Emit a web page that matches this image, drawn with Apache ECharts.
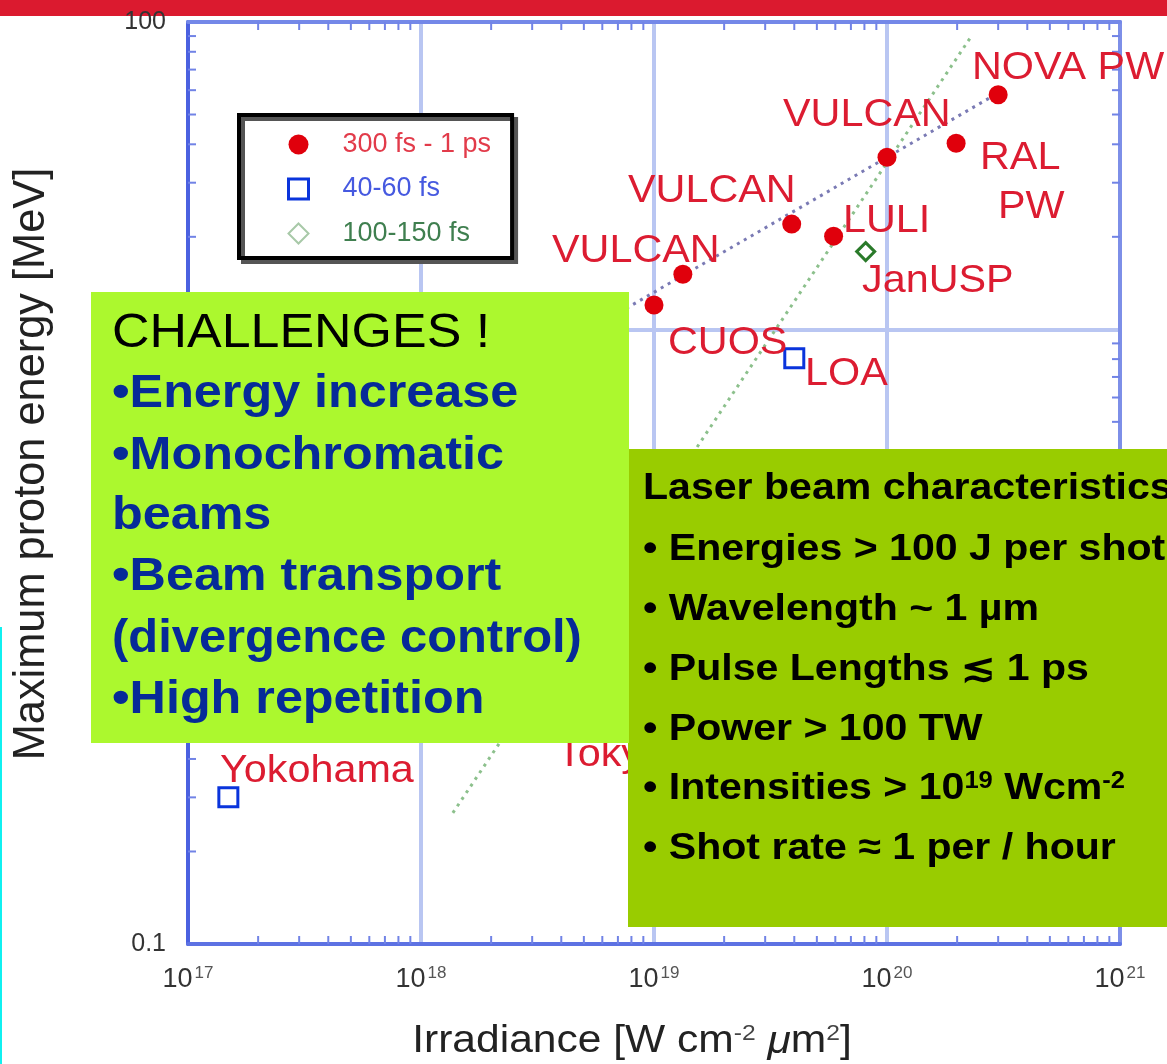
<!DOCTYPE html>
<html>
<head>
<meta charset="utf-8">
<script src="https://cdn.jsdelivr.net/npm/echarts@6/dist/echarts.min.js"></script>
<style>
html, body { margin: 0; padding: 0; background: #fff; }
#chart { width: 1167px; height: 1064px; }
</style>
</head>
<body>
<div id="chart"></div>
<script>
// max proton energy [MeV] vs irradiance
const longPulseX = [1.0e19, 1.33e19, 3.9e19, 5.9e19, 1.0e20, 1.98e20, 3.0e20] // 300 fs - 1 ps
const longPulseY = [12.0, 15.1, 22.0, 20.1, 36.3, 40.3, 58.0]
const shortPulseX = [1.49e17, 4.0e19] // 40-60 fs
const shortPulseY = [0.30, 8.05]
const midPulseX = [8.1e19] // 100-150 fs
const midPulseY = [17.9]
// the two dotted guide lines
const guideLongX = [7.6e18, 2.99e20]
const guideLongY = [11.7, 58.7]
const guideShortX = [1.37e18, 2.29e20]
const guideShortY = [0.267, 89.4]
const seriesNames = ['300 fs - 1 ps', '40-60 fs', '100-150 fs']
// log minor ticks (2..9 in each decade)
const minorMults = [2, 3, 4, 5, 6, 7, 8, 9]
const xDecades = [1e17, 1e18, 1e19, 1e20]
const yDecades = [0.1, 1, 10]

const FONT = '"Liberation Sans", Arial, sans-serif'
const RED = '#dc1c31'

const pairs = (xs, ys) => xs.map((x, i) => [x, ys[i]])
const xMinor = []
xDecades.forEach(d => minorMults.forEach(m => xMinor.push([m * d, 0.1])))
const yMinor = []
yDecades.forEach(d => minorMults.forEach(m => yMinor.push([1e17, m * d])))

const tickStyle = { stroke: '#7183e6', lineWidth: 2 }
function renderXTick (params, api) {
  const v = api.value(0)
  const b = api.coord([v, 0.1])
  const t = api.coord([v, 100])
  return {
    type: 'group',
    children: [
      { type: 'line', shape: { x1: b[0], y1: b[1], x2: b[0], y2: b[1] - 8 }, style: tickStyle },
      { type: 'line', shape: { x1: t[0], y1: t[1], x2: t[0], y2: t[1] + 8 }, style: tickStyle }
    ]
  }
}
function renderYTick (params, api) {
  const v = api.value(1)
  const l = api.coord([1e17, v])
  const r = api.coord([1e21, v])
  return {
    type: 'group',
    children: [
      { type: 'line', shape: { x1: l[0], y1: l[1], x2: l[0] + 8, y2: l[1] }, style: tickStyle },
      { type: 'line', shape: { x1: r[0], y1: r[1], x2: r[0] - 8, y2: r[1] }, style: tickStyle }
    ]
  }
}

function redLabel (text, x, y) {
  return {
    type: 'text', x: x, y: y, scaleX: 1.06, z: 5,
    style: { text: text, fill: RED, font: '39px ' + FONT, verticalAlign: 'middle' }
  }
}
function boxLine (text, x, y, font, color, sx) {
  return {
    type: 'text', x: x, y: y, scaleX: sx, z: 60,
    style: { text: text, fill: color, font: font, verticalAlign: 'middle' }
  }
}

const chart = echarts.init(document.getElementById('chart'))
const axisLineCol = '#5d72e3'
const gridCol = '#b9c6f2'
const laserFont = 'bold 37px ' + FONT
const laserScale = 1.11

const option = {
  animation: false,
  backgroundColor: '#fff',
  grid: { left: 188, right: 47, top: 22, bottom: 120 },
  xAxis: [
    {
      type: 'log', logBase: 10, min: 1e17, max: 1e21, position: 'bottom',
      axisLine: { onZero: false, lineStyle: { color: axisLineCol, width: 4 } },
      axisTick: { show: false },
      splitLine: { show: true, lineStyle: { color: gridCol, width: 4 } },
      axisLabel: {
        margin: 21,
        formatter: v => '{b|10}{s|' + Math.round(Math.log10(v)) + '}',
        rich: {
          b: { fontSize: 27, color: '#333', fontFamily: FONT, lineHeight: 30 },
          s: { fontSize: 17, color: '#555', fontFamily: FONT, verticalAlign: 'top', lineHeight: 18, padding: [0, 0, 0, 2] }
        }
      }
    },
    {
      type: 'log', logBase: 10, min: 1e17, max: 1e21, position: 'top',
      axisLine: { onZero: false, lineStyle: { color: '#7488e8', width: 4 } },
      axisTick: { show: false }, axisLabel: { show: false }, splitLine: { show: false }
    }
  ],
  yAxis: [
    {
      type: 'log', logBase: 10, min: 0.1, max: 100, position: 'left',
      axisLine: { onZero: false, lineStyle: { color: '#4b61e0', width: 4 } },
      axisTick: { show: false },
      splitLine: { show: true, lineStyle: { color: gridCol, width: 4 } },
      axisLabel: {
        margin: 22, fontSize: 25, color: '#333', fontFamily: FONT,
        formatter: v => (v < 1 ? v.toFixed(1) : String(Math.round(v)))
      }
    },
    {
      type: 'log', logBase: 10, min: 0.1, max: 100, position: 'right',
      axisLine: { onZero: false, lineStyle: { color: '#7d8fe8', width: 4 } },
      axisTick: { show: false }, axisLabel: { show: false }, splitLine: { show: false }
    }
  ],
  legend: {
    orient: 'vertical', left: 239, top: 115,
    padding: [16, 21, 11, 48],
    itemWidth: 20, itemHeight: 20, itemGap: 17.5,
    backgroundColor: '#fff', borderColor: '#000', borderWidth: 4,
    shadowColor: '#555', shadowBlur: 0, shadowOffsetX: 4, shadowOffsetY: 4,
    selectedMode: false,
    textStyle: { fontSize: 27, fontFamily: FONT, lineHeight: 20, padding: [0, 0, 0, 29] },
    data: [
      { name: seriesNames[0], textStyle: { color: '#e23b4a' } },
      { name: seriesNames[1], textStyle: { color: '#4659e0' }, itemStyle: { borderWidth: 3 } },
      { name: seriesNames[2], textStyle: { color: '#3f7f4f' }, itemStyle: { borderColor: '#a8c9a8', borderWidth: 2 } }
    ]
  },
  series: [
    {
      type: 'custom', renderItem: renderXTick, data: xMinor, silent: true, z: 1, clip: false
    },
    {
      type: 'custom', renderItem: renderYTick, data: yMinor, silent: true, z: 1, clip: false
    },
    {
      type: 'line', data: pairs(guideLongX, guideLongY), showSymbol: false, silent: true, z: 2,
      lineStyle: { color: '#7a7ab4', width: 3, type: [3, 5] }
    },
    {
      type: 'line', data: pairs(guideShortX, guideShortY), showSymbol: false, silent: true, z: 2,
      lineStyle: { color: '#8cc08c', width: 3, type: [3, 5] }
    },
    {
      name: seriesNames[0], type: 'scatter', symbol: 'circle', symbolSize: 19, z: 3,
      itemStyle: { color: '#e0000c', opacity: 1 },
      data: pairs(longPulseX, longPulseY)
    },
    {
      name: seriesNames[1], type: 'scatter', symbol: 'rect', symbolSize: 19, z: 3,
      itemStyle: { color: 'rgba(255,255,255,0)', borderColor: '#0a34dc', borderWidth: 3, opacity: 1 },
      data: pairs(shortPulseX, shortPulseY)
    },
    {
      name: seriesNames[2], type: 'scatter', symbol: 'diamond', symbolSize: 18, z: 3,
      itemStyle: { color: 'rgba(255,255,255,0)', borderColor: '#2a7a2a', borderWidth: 3, opacity: 1 },
      data: pairs(midPulseX, midPulseY)
    }
  ],
  graphic: [
    // slide decoration
    { type: 'rect', shape: { x: 0, y: 0, width: 1167, height: 16 }, style: { fill: '#db1a2f' }, z: -10 },
    { type: 'rect', shape: { x: 0, y: 627, width: 2, height: 437 }, style: { fill: '#10f0f0' }, z: 1 },
    // axis titles
    {
      type: 'text', x: 32, y: 464, rotation: Math.PI / 2, scaleX: 0.985, z: 5,
      style: { text: 'Maximum proton energy [MeV]', fill: '#222', font: '44px ' + FONT, align: 'center', verticalAlign: 'middle' }
    },
    {
      type: 'text', x: 632, y: 1042, scaleX: 1.12, z: 5,
      style: {
        text: 'Irradiance [W cm{s|-2} {i|μ}m{s|2}]', fill: '#222', font: '38px ' + FONT,
        align: 'center', verticalAlign: 'middle',
        rich: {
          s: { fontSize: 22, fill: '#444', fontFamily: FONT, verticalAlign: 'top' },
          i: { fontSize: 38, fontStyle: 'italic', fill: '#222', fontFamily: FONT }
        }
      }
    },
    // facility labels
    redLabel('NOVA PW', 972, 68),
    redLabel('VULCAN', 783, 115),
    redLabel('RAL', 980, 158),
    redLabel('PW', 998, 207),
    redLabel('VULCAN', 628, 191),
    redLabel('LULI', 843, 221),
    redLabel('VULCAN', 552, 251),
    redLabel('JanUSP', 862, 281),
    redLabel('CUOS', 668, 343),
    redLabel('LOA', 805, 374),
    redLabel('Toky', 557, 755),
    redLabel('Yokohama', 220, 771),
    // challenges box
    { type: 'rect', shape: { x: 91, y: 292, width: 538, height: 451 }, style: { fill: '#acf82e' }, z: 50 },
    boxLine('CHALLENGES !', 112, 333, '49px ' + FONT, '#000', 1.06),
    boxLine('•Energy increase', 112, 394, 'bold 47px ' + FONT, '#062a98', 1.07),
    boxLine('•Monochromatic', 112, 456, 'bold 47px ' + FONT, '#062a98', 1.07),
    boxLine('beams', 112, 516, 'bold 47px ' + FONT, '#062a98', 1.07),
    boxLine('•Beam transport', 112, 577, 'bold 47px ' + FONT, '#062a98', 1.07),
    boxLine('(divergence control)', 112, 639, 'bold 47px ' + FONT, '#062a98', 1.04),
    boxLine('•High repetition', 112, 700, 'bold 47px ' + FONT, '#062a98', 1.07),
    // laser characteristics box
    { type: 'rect', shape: { x: 628, y: 449, width: 539, height: 478 }, style: { fill: '#99cc00' }, z: 49 },
    boxLine('Laser beam characteristics', 643, 489, laserFont, '#000', laserScale),
    boxLine('• Energies > 100 J per shot', 643, 550, laserFont, '#000', laserScale),
    boxLine('• Wavelength ~ 1 µm', 643, 610, laserFont, '#000', laserScale),
    boxLine('• Pulse Lengths ≲ 1 ps', 643, 670, laserFont, '#000', laserScale),
    boxLine('• Power > 100 TW', 643, 730, laserFont, '#000', laserScale),
    {
      type: 'text', x: 643, y: 789, scaleX: laserScale, z: 60,
      style: {
        text: '• Intensities > 10{s|19} Wcm{s|-2}', fill: '#000', font: laserFont,
        verticalAlign: 'middle',
        rich: { s: { fontSize: 23, fontWeight: 'bold', fill: '#000', fontFamily: FONT, verticalAlign: 'top' } }
      }
    },
    boxLine('• Shot rate ≈ 1 per / hour', 643, 849, laserFont, '#000', laserScale)
  ]
}

chart.setOption(option)
</script>
</body>
</html>
